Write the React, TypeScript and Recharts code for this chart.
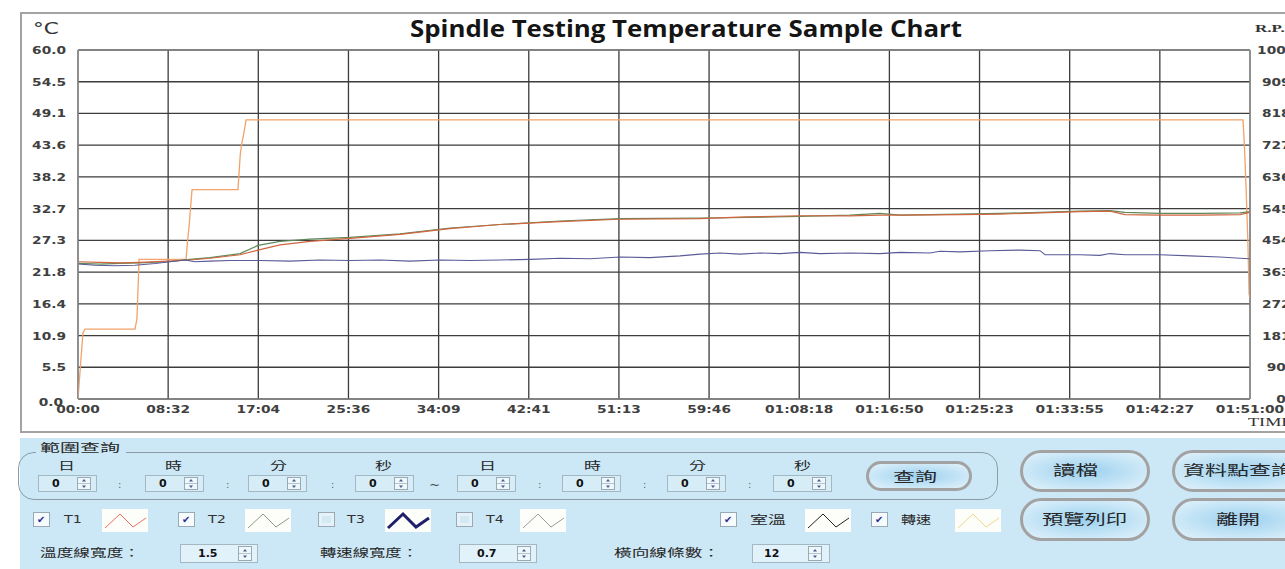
import React from 'react';
import { LineChart, Line, XAxis, YAxis, CartesianGrid, ReferenceLine } from 'recharts';

// ---------------- data ----------------
const TIME_TICK_LABELS = ['00:00', '08:32', '17:04', '25:36', '34:09', '42:41', '51:13', '59:46', '01:08:18', '01:16:50', '01:25:23', '01:33:55', '01:42:27', '01:51:00'];
const TEMP_TICK_LABELS = ['0.0', '5.5', '10.9', '16.4', '21.8', '27.3', '32.7', '38.2', '43.6', '49.1', '54.5', '60.0'];
const RPM_TICK_LABELS = ['0', '909', '1818', '2727', '3636', '4545', '5454', '6363', '7272', '8181', '9090', '10000'];

// seconds from start
const TEMP_TIMES = [0, 125, 239, 352, 511, 636, 750, 921, 1023, 1148, 1318, 1546, 1830, 2114, 2398, 2739, 3080, 3535, 3790, 4103, 4387, 4557, 4671, 5012, 5239, 5467, 5694, 5864, 5950, 6149, 6376, 6603, 6660];
const T1_VALUES = [23.6, 23.5, 23.4, 23.5, 23.7, 23.9, 24.2, 24.8, 25.6, 26.5, 27.1, 27.6, 28.3, 29.3, 30.0, 30.5, 30.9, 31.0, 31.3, 31.5, 31.5, 31.6, 31.6, 31.7, 31.8, 32.0, 32.2, 32.3, 31.7, 31.6, 31.6, 31.7, 32.1];
const T2_VALUES = [23.3, 23.2, 23.3, 23.4, 23.6, 24.0, 24.3, 25.0, 26.4, 27.1, 27.5, 27.8, 28.4, 29.4, 30.0, 30.6, 31.0, 31.1, 31.2, 31.4, 31.6, 31.9, 31.6, 31.8, 31.9, 32.1, 32.3, 32.4, 32.1, 31.9, 31.9, 32.0, 32.2];

const ROOM_TIMES = [0, 97, 210, 324, 438, 523, 608, 665, 750, 864, 1034, 1205, 1375, 1546, 1716, 1887, 2057, 2228, 2398, 2569, 2739, 2910, 3080, 3250, 3421, 3535, 3648, 3762, 3875, 3989, 4103, 4216, 4387, 4557, 4671, 4841, 4898, 5012, 5182, 5353, 5467, 5495, 5694, 5808, 5864, 5950, 6149, 6319, 6490, 6603, 6660];
const ROOM_VALUES = [23.2, 23.0, 22.9, 23.0, 23.3, 23.6, 23.9, 23.6, 23.7, 23.8, 23.8, 23.7, 23.9, 23.8, 23.9, 23.7, 23.9, 23.8, 23.9, 24.0, 24.2, 24.1, 24.4, 24.3, 24.6, 24.9, 25.1, 24.9, 25.1, 25.0, 25.2, 25.0, 25.1, 25.0, 25.2, 25.1, 25.4, 25.3, 25.5, 25.6, 25.5, 24.8, 24.8, 24.7, 25.0, 24.8, 24.8, 24.6, 24.4, 24.2, 24.1];

const RPM_TIMES = [0, 28, 40, 324, 335, 347, 614, 622, 632, 648, 909, 922, 930, 942, 955, 6620, 6628, 6638, 6648, 6655, 6660];
const RPM_VALUES = [0, 1900, 2000, 2000, 2300, 4000, 4000, 4500, 5000, 6000, 6000, 7000, 7300, 7600, 8000, 8000, 7300, 6000, 4500, 3000, 2900];

const TEMP_MAX = 60;
const RPM_MAX = 10000;

// ---------------- derived ----------------
const parseTime = (s: string) => s.split(':').map(Number).reduce((a, b) => a * 60 + b, 0);
const TIME_MAX = parseTime(TIME_TICK_LABELS[TIME_TICK_LABELS.length - 1]);
const TIME_TICKS = TIME_TICK_LABELS.map((_, i) => (i * TIME_MAX) / (TIME_TICK_LABELS.length - 1));
const TEMP_TICKS = TEMP_TICK_LABELS.map((_, i) => (i * TEMP_MAX) / (TEMP_TICK_LABELS.length - 1));
const RPM_TICKS = RPM_TICK_LABELS.map((_, i) => (i * RPM_MAX) / (RPM_TICK_LABELS.length - 1));

const zip = (ts: number[], vs: number[]) => ts.map((t, i) => ({ t, v: vs[i] }));
const t1Data = zip(TEMP_TIMES, T1_VALUES);
const t2Data = zip(TEMP_TIMES, T2_VALUES);
const roomData = zip(ROOM_TIMES, ROOM_VALUES);
const rpmData = zip(RPM_TIMES, RPM_VALUES);

const nearest = (ticks: number[], v: number) => {
  let best = 0;
  ticks.forEach((t, i) => {
    if (Math.abs(t - v) < Math.abs(ticks[best] - v)) best = i;
  });
  return best;
};

const tickStyle: any = { fontFamily: 'DejaVu Sans', fontWeight: 700, fontSize: 11, fill: '#404040' };
const SX = 1.25;

function LeftTick(props: any) {
  const { x, y, payload } = props;
  const idx = nearest(TEMP_TICKS, payload.value);
  const label = TEMP_TICK_LABELS[idx];
  const dx = idx === 0 ? -3 : 0;
  const dy = idx === 0 ? 3 : 0;
  return (
    <text transform={`translate(${x + dx},${y + 4 + dy}) scale(${SX},1)`} textAnchor="end" {...tickStyle}>
      {label}
    </text>
  );
}

function RightTick(props: any) {
  const { x, y, payload } = props;
  const label = RPM_TICK_LABELS[nearest(RPM_TICKS, payload.value)];
  return (
    <text transform={`translate(${x + 31},${y + 4}) scale(${SX},1)`} textAnchor="middle" {...tickStyle}>
      {label}
    </text>
  );
}

function BottomTick(props: any) {
  const { x, y, payload } = props;
  const label = TIME_TICK_LABELS[nearest(TIME_TICKS, payload.value)];
  return (
    <text transform={`translate(${x},${y + 14}) scale(${SX},1)`} textAnchor="middle" {...tickStyle}>
      {label}
    </text>
  );
}

// ---------------- panel helpers ----------------
const CJK = '"Noto Sans CJK TC", "Noto Sans CJK SC", sans-serif';

function SText({ x, cy, w, sx, size, text, color = '#262626', weight = 400, family = CJK }: any) {
  const scale = sx ?? w / (text.length * size);
  return (
    <div
      style={{
        position: 'absolute',
        left: x,
        top: cy - size * 0.7,
        height: size * 1.4,
        lineHeight: `${size * 1.4}px`,
        fontSize: size,
        fontFamily: family,
        fontWeight: weight,
        color,
        whiteSpace: 'nowrap',
        transform: `scaleX(${scale})`,
        transformOrigin: 'left center',
      }}
    >
      {text}
    </div>
  );
}

function Spin({ x, y, w, h, value, numX, arrowX, bg = '#d6edf8' }: any) {
  const ah = h - 4;
  return (
    <div style={{ position: 'absolute', left: x, top: y, width: w, height: h, boxSizing: 'border-box', border: '1px solid #a4b8c4', background: bg }}>
      <div style={{ position: 'absolute', left: numX, top: 0, height: h - 2, lineHeight: `${h - 2}px`, fontFamily: 'DejaVu Sans', fontSize: 11, fontWeight: 700, color: '#111' }}>
        {value}
      </div>
      <div style={{ position: 'absolute', left: arrowX, top: 1, width: 14, height: ah, boxSizing: 'border-box', border: '1px solid #98aab6', background: '#eef7fc' }}>
        <svg width={12} height={ah - 2} style={{ position: 'absolute', left: 0, top: 0 }}>
          <line x1={0} x2={12} y1={(ah - 2) / 2} y2={(ah - 2) / 2} stroke="#b4c4ce" strokeWidth={1} />
          <polygon points={`4,${(ah - 2) / 2 - 2} 8,${(ah - 2) / 2 - 2} 6,${(ah - 2) / 2 - 4.5}`} fill="#4a5a8a" />
          <polygon points={`4,${(ah - 2) / 2 + 2} 8,${(ah - 2) / 2 + 2} 6,${(ah - 2) / 2 + 4.5}`} fill="#4a5a8a" />
        </svg>
      </div>
    </div>
  );
}

function Pill({ x, y, w, h }: any) {
  return (
    <div
      style={{
        position: 'absolute',
        left: x,
        top: y,
        width: w,
        height: h,
        boxSizing: 'border-box',
        border: '3px solid #a2a2a2',
        borderRadius: h / 2,
        background: 'radial-gradient(ellipse at 50% 50%, #9ccfee 0%, #bfe2f5 50%, #e4f3fb 100%)',
      }}
    />
  );
}

function Check({ x, cy, checked }: any) {
  return (
    <div
      style={{
        position: 'absolute',
        left: x,
        top: cy - 8,
        width: 17,
        height: 15,
        boxSizing: 'border-box',
        border: '1px solid #9aaab4',
        background: checked ? '#f6fbfe' : '#e6f2f8',
      }}
    >
      {checked ? (
        <div style={{ position: 'absolute', left: 3, top: -1, fontSize: 10, lineHeight: '15px', fontFamily: 'DejaVu Sans', color: '#2c2c92' }}>✔</div>
      ) : (
        <div style={{ position: 'absolute', left: 3, top: 3, width: 9, height: 7, background: '#d3e9f4' }} />
      )}
    </div>
  );
}

function Icon({ x, cy, color, width = 1 }: any) {
  return (
    <div style={{ position: 'absolute', left: x, top: cy - 11, width: 46, height: 23, background: '#fdfdfa' }}>
      <svg width={46} height={23} style={{ position: 'absolute', left: 0, top: 0 }}>
        <polyline points="3,19 18,5 31,18 44,9" fill="none" stroke={color} strokeWidth={width} />
      </svg>
    </div>
  );
}

const TOP_SPIN_X = [38, 145, 248, 355, 457, 562, 667, 773];
const TOP_LABELS = ['日', '時', '分', '秒', '日', '時', '分', '秒'];
const TOP_LABEL_X = [58, 165, 270, 375, 479, 584, 689, 794];
const SEP_X = [120, 228, 333, 540, 645, 750];

export default function App() {
  const W = 1330;
  const H = 440;
  return (
    <div style={{ position: 'fixed', left: 0, top: 0, width: 1285, height: 569, overflow: 'hidden', background: '#ffffff' }}>
      {/* chart frame */}
      <div style={{ position: 'absolute', left: 20, top: 12, width: 1320, height: 421, boxSizing: 'border-box', border: '2px solid #a3a3a3', background: '#fff' }} />

      {/* title */}
      <svg width={700} height={50} style={{ position: 'absolute', left: 400, top: 0 }}>
        <text x={10} y={37} textLength={552} lengthAdjust="spacingAndGlyphs" fontFamily="Open Sans" fontWeight={700} fontSize={24} fill="#151515">
          Spindle Testing Temperature Sample Chart
        </text>
      </svg>
      <SText x={33} cy={29} sx={1.35} size={16} text="°C" family="DejaVu Sans" color="#333" />
      <SText x={1255} cy={29} sx={1.55} size={11} text="R.P.M." family="Liberation Serif" weight={700} color="#333" />
      <SText x={1248} cy={422} sx={1.4} size={13} text="TIME" family="Liberation Serif" color="#333" />

      <div style={{ position: 'absolute', left: 0, top: 0 }}>
        <LineChart width={W} height={H} margin={{ top: 50, right: 0, left: 0, bottom: 0 }}>
          <CartesianGrid stroke="#3c3c3c" strokeWidth={1.3} />
          <XAxis
            dataKey="t"
            type="number"
            domain={[0, TIME_MAX]}
            ticks={TIME_TICKS}
            interval={0}
            height={H - 399}
            tickSize={0}
            tickMargin={0}
            tickLine={false}
            axisLine={{ stroke: '#9a9a9a', strokeWidth: 1.2 }}
            tick={<BottomTick />}
            allowDataOverflow
          />
          <YAxis
            type="number"
            domain={[0, TEMP_MAX]}
            ticks={TEMP_TICKS}
            interval={0}
            width={78}
            tickSize={0}
            tickMargin={12}
            tickLine={false}
            axisLine={{ stroke: '#9a9a9a', strokeWidth: 1.2 }}
            tick={<LeftTick />}
            allowDataOverflow
          />
          <YAxis
            yAxisId="rpm"
            orientation="right"
            type="number"
            domain={[0, RPM_MAX]}
            ticks={RPM_TICKS}
            interval={0}
            width={W - 1250}
            tickSize={0}
            tickMargin={0}
            tickLine={false}
            axisLine={{ stroke: '#9a9a9a', strokeWidth: 1.2 }}
            tick={<RightTick />}
            allowDataOverflow
          />
          <ReferenceLine y={TEMP_MAX} stroke="#9a9a9a" strokeWidth={1.2} />
          <Line data={rpmData} dataKey="v" yAxisId="rpm" type="linear" stroke="#f2a26a" strokeWidth={1.3} dot={false} isAnimationActive={false} />
          <Line data={t2Data} dataKey="v" type="linear" stroke="#5e8a5a" strokeWidth={1.2} dot={false} isAnimationActive={false} />
          <Line data={t1Data} dataKey="v" type="linear" stroke="#d0653f" strokeWidth={1.2} dot={false} isAnimationActive={false} />
          <Line data={roomData} dataKey="v" type="linear" stroke="#5a5a98" strokeWidth={1.1} dot={false} isAnimationActive={false} />
        </LineChart>
      </div>

      {/* control panel */}
      <div style={{ position: 'absolute', left: 20, top: 438, width: 1265, height: 131, background: '#cce7f5' }} />
      <div style={{ position: 'absolute', left: 18, top: 452, width: 980, height: 48, boxSizing: 'border-box', border: '1px solid #8a9ca8', borderRadius: 16 }} />
      <div style={{ position: 'absolute', left: 36, top: 445, width: 90, height: 12, background: '#cce7f5' }} />
      <SText x={40} cy={448} w={80} size={11} text="範圍查詢" />

      {TOP_LABELS.map((t, i) => (
        <SText key={'l' + i} x={TOP_LABEL_X[i]} cy={466} w={17} size={11} text={t} />
      ))}
      {TOP_SPIN_X.map((x, i) => (
        <Spin key={'s' + i} x={x} y={475} w={59} h={17} value="0" numX={13} arrowX={38} />
      ))}
      {SEP_X.map((x, i) => (
        <SText key={'c' + i} x={x - 2} cy={485} sx={1} size={10} text=":" family="DejaVu Sans" color="#666" />
      ))}
      <SText x={429} cy={486} sx={1.2} size={11} text="~" family="DejaVu Sans" color="#444" />

      <Pill x={866} y={461} w={106} h={30} />
      <SText x={893} cy={476} w={44} size={13} text="查詢" />

      <Pill x={1020} y={450} w={130} h={42} />
      <SText x={1053} cy={470} w={45} size={14} text="讀檔" />
      <Pill x={1172} y={450} w={140} h={42} />
      <SText x={1183} cy={470} w={110} size={14} text="資料點查詢" />
      <Pill x={1020} y={498} w={130} h={43} />
      <SText x={1042} cy={519} w={85} size={14} text="預覽列印" />
      <Pill x={1172} y={498} w={140} h={43} />
      <SText x={1216} cy={519} w={44} size={14} text="離開" />

      {/* series toggles */}
      <Check x={33} cy={520} checked />
      <SText x={64} cy={520} sx={1.3} size={11} text="T1" family="DejaVu Sans" color="#333" />
      <Icon x={102} cy={520} color="#e8705e" />
      <Check x={178} cy={520} checked />
      <SText x={208} cy={520} sx={1.3} size={11} text="T2" family="DejaVu Sans" color="#333" />
      <Icon x={245} cy={520} color="#8a9a84" />
      <Check x={318} cy={520} checked={false} />
      <SText x={347} cy={520} sx={1.3} size={11} text="T3" family="DejaVu Sans" color="#333" />
      <Icon x={385} cy={520} color="#1f1f6c" width={3} />
      <Check x={456} cy={520} checked={false} />
      <SText x={486} cy={520} sx={1.3} size={11} text="T4" family="DejaVu Sans" color="#333" />
      <Icon x={520} cy={520} color="#9a9a9a" />
      <Check x={720} cy={520} checked />
      <SText x={750} cy={520} w={36} size={11} text="室溫" />
      <Icon x={805} cy={520} color="#222222" />
      <Check x={871} cy={520} checked />
      <SText x={901} cy={520} w={30} size={11} text="轉速" />
      <Icon x={955} cy={520} color="#efd98c" />

      {/* bottom row */}
      <SText x={40} cy={553} w={100} size={11} text="溫度線寬度：" />
      <Spin x={180} y={544} w={78} h={19} value="1.5" numX={17} arrowX={57} bg="#e2f2fa" />
      <SText x={320} cy={553} w={98} size={11} text="轉速線寬度：" />
      <Spin x={459} y={544} w={78} h={19} value="0.7" numX={17} arrowX={57} bg="#e2f2fa" />
      <SText x={614} cy={553} w={106} size={11} text="橫向線條數：" />
      <Spin x={752} y={544} w={78} h={19} value="12" numX={11} arrowX={55} bg="#e2f2fa" />
    </div>
  );
}
